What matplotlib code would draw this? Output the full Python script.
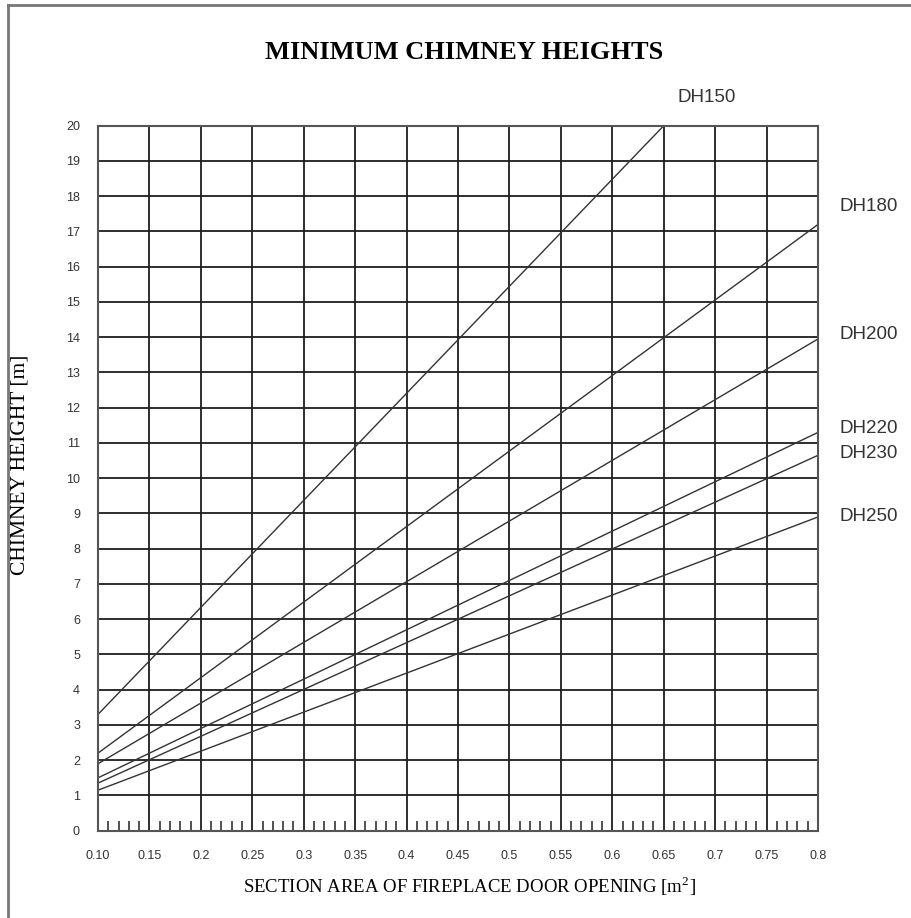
import numpy as np
import matplotlib
matplotlib.use('Agg')
import matplotlib.pyplot as plt
from matplotlib.lines import Line2D
from matplotlib import rc

rc('font', **{'family': 'sans-serif', 'sans-serif': ['Liberation Sans', 'DejaVu Sans']})
rc('mathtext', fontset='stix')

# chart data
labels = ['DH150', 'DH180', 'DH200', 'DH220', 'DH230', 'DH250']
x_start = [0.10, 0.10, 0.10, 0.10, 0.10, 0.10]
x_end = [0.65, 0.80, 0.80, 0.80, 0.80, 0.80]
h_start = [3.3, 2.2, 1.9, 1.5, 1.35, 1.15]
h_end = [20.0, 17.2, 13.95, 11.3, 10.65, 8.9]

x_ticks = [0.10, 0.15, 0.20, 0.25, 0.30, 0.35, 0.40, 0.45, 0.50, 0.55, 0.60, 0.65, 0.70, 0.75, 0.80]
x_ticklabels = ['0.10', '0.15', '0.2', '0.25', '0.3', '0.35', '0.4', '0.45', '0.5', '0.55',
                '0.6', '0.65', '0.7', '0.75', '0.8']
y_ticks = list(range(0, 21))

fig = plt.figure(figsize=(9.12, 9.18), dpi=100)
ax = fig.add_axes([0.1075, 0.0951, 0.7895, 0.768])

grid_col = '#1e1e1e'
for xt in x_ticks:
    ax.axvline(xt, color=grid_col, lw=1.3, zorder=1)
for yt in y_ticks:
    ax.axhline(yt, color=grid_col, lw=1.3, zorder=1)

for i in range(len(labels)):
    ax.plot([x_start[i], x_end[i]], [h_start[i], h_end[i]], color='#333333', lw=1.0, zorder=2)

# curve labels
ax.text(0.663, 20.8, labels[0], fontsize=13.5, color='#333333', ha='left', va='center', clip_on=False)
label_dy = [0, 0.5, 0.12, 0.12, 0.05, 0.0]
for i in range(1, len(labels)):
    ax.text(0.821, h_end[i] + label_dy[i], labels[i], fontsize=13.5, color='#333333',
            ha='left', va='center', clip_on=False)

ax.set_xlim(0.10, 0.80)
ax.set_ylim(0, 20)
ax.set_xticks(x_ticks)
ax.set_xticklabels(x_ticklabels)
ax.set_yticks(y_ticks)
minor = [m for m in np.round(np.arange(0.10, 0.801, 0.01), 2) if round(m * 100) % 5 != 0]
ax.set_xticks(minor, minor=True)
ax.tick_params(axis='both', which='major', length=0, labelsize=9, labelcolor='#333333')
ax.tick_params(axis='y', pad=13)
ax.tick_params(axis='x', pad=14)
ax.tick_params(axis='x', which='minor', direction='in', length=7, width=1.3, color='#444444')
for s in ax.spines.values():
    s.set_color('#555555')
    s.set_linewidth(1.5)

fig.text(0.509, 0.943, 'MINIMUM CHIMNEY HEIGHTS', fontsize=19, fontweight='bold',
         family='Liberation Serif', ha='center', va='center')
fig.text(0.515, 0.035, r'SECTION AREA OF FIREPLACE DOOR OPENING [m$^\mathregular{2}$]', fontsize=13.5,
         family='Liberation Serif', ha='center', va='center')
fig.text(0.022, 0.4935, 'CHIMNEY HEIGHT [m]', fontsize=15.5, family='Liberation Serif',
         rotation=90, ha='center', va='center')

# frame around the figure (left and top edges)
fig.add_artist(Line2D([0.0088, 0.0088], [0.0, 0.9946], transform=fig.transFigure, color='#777777', lw=2))
fig.add_artist(Line2D([0.0088, 1.0], [0.9946, 0.9946], transform=fig.transFigure, color='#777777', lw=2))

fig.savefig('out.png', dpi=100)
